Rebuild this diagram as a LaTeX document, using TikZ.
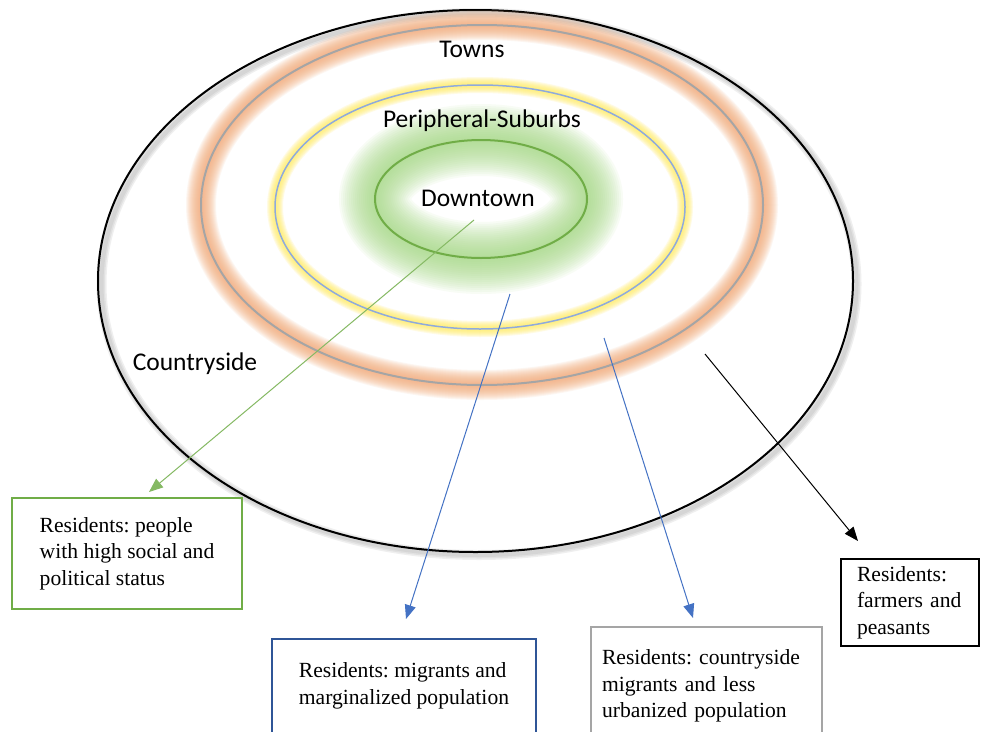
\documentclass[tikz,border=0pt]{standalone}
\usepackage{fontspec}
\setmainfont{Liberation Serif}
\newfontfamily\calibri{Carlito}
\usetikzlibrary{arrows.meta}
\frenchspacing
\definecolor{ringgray}{RGB}{165,165,165}
\definecolor{ringblue}{RGB}{143,170,220}
\definecolor{glowor}{RGB}{244,170,120}
\definecolor{glowye}{RGB}{255,236,90}
\definecolor{glowgr}{RGB}{160,215,125}
\definecolor{zonegreen}{RGB}{112,173,71}
\definecolor{arrblue}{RGB}{68,114,196}
\definecolor{boxblue}{RGB}{47,85,151}
\begin{document}
\begin{tikzpicture}[x=1pt,y=-1pt,
    zonelabel/.style={font=\calibri\fontsize{25.5}{30}\selectfont,inner sep=0,anchor=base},
    resbox/.style={draw,line width=2,align=left,anchor=north west,inner sep=0,
      font=\fontsize{21.6}{26.5}\selectfont},
    arr/.style={line width=1,-{Triangle[length=14pt,width=11pt]}}]
    \useasboundingbox (0,0) rectangle (981,731);
    \clip (0,0) rectangle (981,731);
    \fill[white] (0,0) rectangle (981,731);
    \foreach \w in {10,7,4} {
      \draw[gray,opacity=0.12,line width=\w] (479,284) ellipse [x radius=377.5, y radius=271];
    }
    \draw[line width=2] (475.5,281) ellipse [x radius=377.5, y radius=271];
    \foreach \w in {30,28,...,4} {
      \draw[glowor,opacity=0.1,line width=\w] (482,205) ellipse [x radius=281, y radius=180];
    }
    \draw[ringgray,line width=2] (482,205) ellipse [x radius=281, y radius=180];
    \foreach \w in {16,14,...,4} {
      \draw[glowye,opacity=0.16,line width=\w] (480,207) ellipse [x radius=205, y radius=122];
    }
    \draw[ringblue,line width=1.5] (480,207) ellipse [x radius=205, y radius=122];
    \foreach \w in {72,68,...,4} {
      \draw[glowgr,opacity=0.07,line width=\w] (481,199) ellipse [x radius=106, y radius=59];
    }
    \draw[zonegreen,line width=2] (481,199) ellipse [x radius=106, y radius=59];

    \node[zonelabel] (towns) at (472,57.5) {Towns};
    \node[zonelabel] (suburbs) at (482,127) {Peripheral-Suburbs};
    \node[zonelabel] (downtown) at (478,206.5) {Downtown};
    \node[zonelabel] (country) at (195,370) {Countryside};

    \node[resbox,draw=zonegreen,minimum width=230,minimum height=111] (gbox) at (11,497)
      {Residents: people\\with high social and\\political status};
    \node[resbox,draw=boxblue,minimum width=264,minimum height=94] (bbox) at (271,638)
      {Residents: migrants and\\marginalized population};
    \node[resbox,draw=ringgray,minimum width=231,minimum height=118,text width=209] (ybox) at (590,626)
      {Residents: countryside\\migrants and less\\urbanized population};
    \node[resbox,minimum width=138,minimum height=87,text width=106] (kbox) at (840,558)
      {Residents:\\farmers and\\peasants};

    \coordinate (gstart) at (474,220);
    \coordinate (bstart) at (510,294);
    \coordinate (ystart) at (604,338);
    \coordinate (kstart) at (705,354);
    \draw[arr,zonegreen!85] (gstart) -- ([xshift=22,yshift=5]gbox.north);
    \draw[arr,arrblue] (bstart) -- ([xshift=2,yshift=19]bbox.north);
    \draw[arr,arrblue] (ystart) -- ([xshift=-13.5,yshift=8]ybox.north);
    \draw[arr] (kstart) -- ([xshift=-52,yshift=17]kbox.north);
  \end{tikzpicture}
\end{document}
